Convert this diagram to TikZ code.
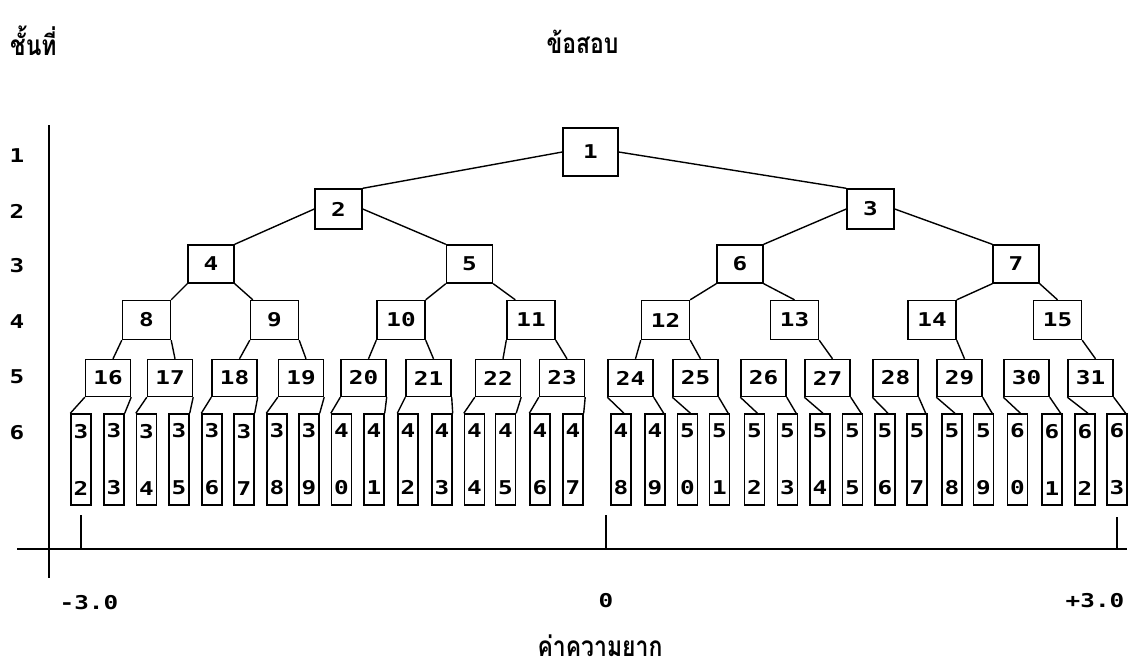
\documentclass[tikz,border=0pt]{standalone}
\usepackage{fontspec}
\usetikzlibrary{calc}
\newfontfamily\thaifont[Script=Thai,FakeStretch=0.82]{Loma}
\newfontfamily\digfont[FakeStretch=1.28]{DejaVu Sans Mono}
\begin{document}
\begin{tikzpicture}[x=1pt,y=-1pt,
  nb/.style={draw, line width=1.4pt, inner sep=0pt, font=\digfont\bfseries\fontsize{19}{21}\selectfont},
  l1/.style={nb, minimum width=55pt, minimum height=48pt},
  l2/.style={nb, minimum width=47pt, minimum height=40pt},
  l3/.style={nb, minimum width=46pt, minimum height=38pt},
  l4/.style={nb, minimum width=48pt, minimum height=39pt},
  l5/.style={nb, minimum width=45pt, minimum height=37pt},
  leaf/.style={nb, minimum width=20pt, minimum height=91pt, align=center},
  edge/.style={line width=1.4pt},
  axis/.style={line width=1.8pt},
  lab/.style={font=\digfont\bfseries\fontsize{19}{21}\selectfont, inner sep=0pt},
  thai/.style={font=\thaifont\bfseries\fontsize{28}{30}\selectfont, inner sep=0pt}]
\useasboundingbox (0,0) rectangle (1128,670);
\fill[white] (0,0) rectangle (1128,670);

% titles
\node[thai, anchor=base west] (tlayer) at (10,55) {ชั้นที่};
\node[thai, anchor=base] (titem) at (582.5,53) {ข้อสอบ};
\node[thai, anchor=base] (tdiff) at (600,656) {ค่าความยาก};

% layer labels
\foreach \k/\y in {1/156,2/211,3/266,4/322,5/377,6/433}
  \node[lab] (layer\k) at (17,\y) {\k};

% axes
\coordinate (vtop) at (49,125);
\coordinate (vbot) at (49,578);
\coordinate (hl) at (17,549);
\coordinate (hr) at (1127,549);
\draw[axis] (vtop) -- (vbot);
\draw[axis] (hl) -- (hr);
\coordinate (tk1) at (81,515);
\coordinate (tk2) at (606,515);
\coordinate (tk3) at (1117,517);
\draw[axis] (tk1) -- (tk1 |- hl);
\draw[axis] (tk2) -- (tk2 |- hl);
\draw[axis] (tk3) -- (tk3 |- hl);
\node[lab] (xm) at (89,603) {-3.0};
\node[lab] (x0) at (606,601) {0};
\node[lab] (xp) at (1095,601) {+3.0};

% tree nodes
\node[l1] (n1) at (590.5,152) {1};
\node[l2] (n2) at (338.5,209) {2};
\node[l2] (n3) at (870.5,209) {3};
\foreach \n/\x in {4/211,5/469.5,6/740,7/1016}
  \node[l3] (n\n) at (\x,264) {\n};
\foreach \n/\x in {8/146.5,9/274.5,10/401,11/531,12/665.5,13/794.5,14/932,15/1057.5}
  \node[l4] (n\n) at (\x,320) {\n};
\foreach \n/\x in {16/108,17/170,18/234.5,19/301,20/363.5,21/428.5,22/498,23/562,24/630.5,25/695.5,26/763.5,27/827.5,28/895.5,29/959.5,30/1026.5,31/1090.5}
  \node[l5] (n\n) at (\x,378) {\n};
\foreach \n/\x in {32/81,33/114,34/146.5,35/179,36/212,37/244,38/277,39/309,40/341.5,41/374,42/408,43/442,44/474.5,45/505.5,46/540,47/573,48/621,49/655,50/687.5,51/719.5,52/754.5,53/787.5,54/820,55/852.5,56/885,57/917,58/952,59/983.5,60/1017.5,61/1052,62/1085,63/1117}{
  \pgfmathtruncatemacro\tn{\n/10}
  \pgfmathtruncatemacro\un{\n-10*\tn}
  \node[leaf] (n\n) at (\x,459.5) {\tn\\[36pt]\un};
}

% edges levels 1-3
\draw[edge] (n1.west) -- (n2.north east);
\draw[edge] (n1.east) -- (n3.north west);
\draw[edge] (n2.west) -- (n4.north east);
\draw[edge] (n2.east) -- (n5.north west);
\draw[edge] (n3.west) -- (n6.north east);
\draw[edge] (n3.east) -- (n7.north west);
% level 3 -> 4
\draw[edge] (n4.south west) -- (n8.north east);
\draw[edge] (n4.south east) -- ($(n9.north west)+(3,0)$);
\draw[edge] (n5.south west) -- (n10.north east);
\draw[edge] (n5.south east) -- ($(n11.north west)+(9,0)$);
\draw[edge] (n6.south west) -- (n12.north east);
\draw[edge] (n6.south east) -- (n13.north);
\draw[edge] (n7.south west) -- (n14.north east);
\draw[edge] (n7.south east) -- (n15.north);
% level 4 -> 5
\foreach \p/\c/\side in {8/16/south west,8/17/south east,9/18/south west,9/19/south east,
  10/20/south west,10/21/south east,11/22/south west,11/23/south east,
  12/24/south west,12/25/south east,13/27/south east,14/29/south east,15/31/south east}
  \draw[edge] (n\p.\side) -- ($(n\c.north)+(5,0)$);
% level 5 -> 6
\foreach \p in {16,...,23}{
  \pgfmathtruncatemacro\ca{2*\p}
  \pgfmathtruncatemacro\cb{2*\p+1}
  \draw[edge] (n\p.south west) -- (n\ca.north west);
  \draw[edge] (n\p.south east) -- (n\cb.north east);
}
\foreach \p in {24,...,31}{
  \pgfmathtruncatemacro\ca{2*\p}
  \pgfmathtruncatemacro\cb{2*\p+1}
  \draw[edge] (n\p.south west) -- ($(n\ca.north)+(3,0)$);
  \draw[edge] (n\p.south east) -- ($(n\cb.north east)+(-2,0)$);
}
\end{tikzpicture}
\end{document}
